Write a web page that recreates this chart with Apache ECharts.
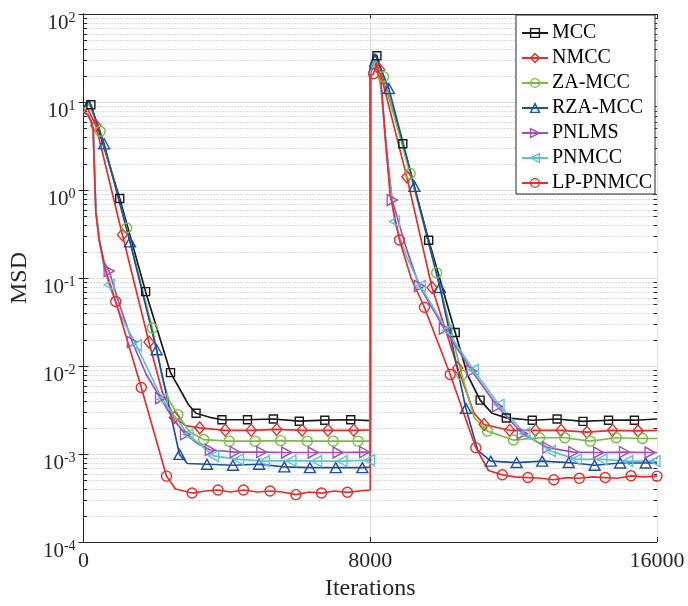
<!DOCTYPE html>
<html><head><meta charset="utf-8">
<script src="https://cdn.jsdelivr.net/npm/echarts@6/dist/echarts.min.js"></script>
<style>html,body{margin:0;padding:0;background:#fff}#c{width:688px;height:606px}</style>
</head><body><div id="c"></div>
<script>
// ---------------- data ----------------
const seriesNames = ['MCC', 'NMCC', 'ZA-MCC', 'RZA-MCC', 'PNLMS', 'PNMCC', 'LP-PNMCC'];
const xTicks = [0, 8000, 16000];
const yDecades = [-4, -3, -2, -1, 0, 1, 2];
const minorMultipliers = [2, 3, 4, 5, 6, 7, 8, 9];

// each point: [iteration, MSD, marker(1/0)]
const MCC = [
  [0, 8.6, 0], [130, 10.3, 0], [204, 9.3, 1], [1009, 0.80, 1], [1731, 0.070, 1], [2426, 0.0084, 1],
  [2750, 0.0049, 0], [2935, 0.0036, 0], [3139, 0.0029, 1], [3491, 0.00263, 0], [3861, 0.00245, 1],
  [4574, 0.00245, 1], [5296, 0.0025, 1], [6019, 0.00236, 1], [6731, 0.00242, 1], [7454, 0.00245, 1],
  [8000, 0.0024, 0],
  [8001, 26, 0], [8120, 35, 0], [8185, 33.6, 1], [8907, 3.35, 1], [9630, 0.268, 1], [10370, 0.024, 1],
  [10720, 0.0078, 0], [11065, 0.0041, 1], [11400, 0.0029, 0], [11796, 0.00257, 1], [12519, 0.00242, 1],
  [13213, 0.0025, 1], [13935, 0.00235, 1], [14648, 0.00242, 1], [15370, 0.00242, 1], [16000, 0.0025, 0]
];
const NMCC = [
  [0, 8.0, 0], [120, 8.3, 0], [343, 5.4, 1], [1083, 0.31, 1], [1824, 0.0187, 1], [2200, 0.005, 0],
  [2537, 0.0026, 1], [2850, 0.0021, 0], [3241, 0.00198, 1], [3954, 0.00186, 1], [4676, 0.00186, 1],
  [5389, 0.0019, 1], [6100, 0.00186, 1], [6820, 0.00186, 1], [7540, 0.00186, 1], [8000, 0.00188, 0],
  [8001, 21, 0], [8120, 28, 0], [8259, 23.4, 1], [9019, 1.41, 1], [9722, 0.078, 1], [10440, 0.0095, 1],
  [10898, 0.0029, 0], [11176, 0.00216, 1], [11889, 0.00186, 1], [12611, 0.00186, 1], [13324, 0.00186, 1],
  [14046, 0.00177, 1], [14760, 0.00186, 1], [15470, 0.00183, 1], [16000, 0.00186, 0]
];
const ZAMCC = [
  [0, 8.5, 0], [150, 9.5, 0], [463, 4.65, 1], [1204, 0.37, 1], [1917, 0.027, 1], [2194, 0.0075, 0],
  [2380, 0.0041, 0], [2630, 0.0028, 1], [2950, 0.0018, 0], [3352, 0.00146, 1], [4065, 0.0014, 1],
  [4787, 0.0014, 1], [5500, 0.00142, 1], [6241, 0.0014, 1], [6963, 0.0014, 1], [7657, 0.0014, 1],
  [8000, 0.0014, 0],
  [8001, 24, 0], [8130, 30, 0], [8370, 19.4, 1], [9111, 1.54, 1], [9852, 0.115, 1], [10556, 0.0079, 1],
  [10900, 0.0026, 0], [11269, 0.00182, 1], [11991, 0.00144, 1], [12722, 0.00153, 1], [13426, 0.00153, 1],
  [14139, 0.0014, 1], [14861, 0.00153, 1], [15593, 0.0015, 1], [16000, 0.0015, 0]
];
const RZAMCC = [
  [0, 8.6, 0], [150, 10.5, 0], [574, 3.35, 1], [1296, 0.257, 1], [2037, 0.0153, 1], [2676, 0.00099, 1],
  [2900, 0.00078, 0], [3444, 0.000765, 1], [4167, 0.000745, 1], [4898, 0.000765, 1], [5602, 0.000714, 1],
  [6315, 0.0007, 1], [7037, 0.0007, 1], [7778, 0.0007, 1], [8000, 0.00071, 0],
  [8001, 26, 0], [8130, 35, 0], [8519, 14.2, 1], [9231, 1.1, 1], [9944, 0.078, 1], [10667, 0.0033, 1],
  [11000, 0.0011, 0], [11361, 0.00083, 1], [12083, 0.0008, 1], [12796, 0.00083, 1], [13537, 0.0008, 1],
  [14259, 0.000745, 1], [14972, 0.00079, 1], [15685, 0.00079, 1], [16000, 0.0008, 0]
];
const PNLMS = [
  [0, 7.8, 0], [120, 7.2, 0], [204, 6.1, 0], [268, 4.9, 0], [296, 2.1, 0], [343, 0.6, 0], [435, 0.28, 0],
  [574, 0.15, 0], [713, 0.12, 1], [1000, 0.05, 0], [1361, 0.0187, 1], [1750, 0.008, 0], [2148, 0.0043, 1],
  [2500, 0.0025, 0], [2843, 0.00167, 1], [3200, 0.0013, 0], [3537, 0.00111, 1], [4231, 0.00105, 1],
  [4972, 0.00105, 1], [5667, 0.00104, 1], [6407, 0.00104, 1], [7102, 0.00104, 1], [7843, 0.00105, 1],
  [8000, 0.00104, 0],
  [8001, 22, 0], [8150, 29, 0], [8300, 15, 0], [8450, 3, 0], [8611, 0.77, 1], [9000, 0.22, 0],
  [9370, 0.081, 1], [10065, 0.0265, 1], [10833, 0.0088, 1], [11546, 0.00348, 1], [12241, 0.00171, 1],
  [12954, 0.00118, 1], [13676, 0.00105, 1], [14370, 0.00104, 1], [15093, 0.00105, 1], [15806, 0.00104, 1],
  [16000, 0.00104, 0]
];
const PNMCC = [
  [0, 7.8, 0], [120, 7.2, 0], [204, 6.1, 0], [268, 4.9, 0], [296, 2.1, 0], [343, 0.58, 0], [435, 0.27, 0],
  [574, 0.13, 0], [713, 0.0836, 1], [1000, 0.04, 0], [1472, 0.0172, 1], [2194, 0.0042, 1], [2917, 0.00167, 1],
  [3630, 0.00095, 1], [4324, 0.00087, 1], [5046, 0.00083, 1], [5787, 0.00084, 1], [6500, 0.00083, 1],
  [7213, 0.00083, 1], [7981, 0.00085, 1], [8000, 0.00085, 0],
  [8001, 22, 0], [8150, 29, 0], [8300, 14, 0], [8450, 2.5, 0], [8676, 0.44, 1], [9000, 0.18, 0],
  [9398, 0.081, 1], [10139, 0.0254, 1], [10880, 0.009, 1], [11593, 0.00362, 1], [12315, 0.00171, 1],
  [13028, 0.00108, 1], [13750, 0.00087, 1], [14463, 0.00087, 1], [15185, 0.00083, 1], [15944, 0.00083, 1],
  [16000, 0.00082, 0]
];
const LPPNMCC = [
  [0, 7.6, 0], [120, 7.2, 0], [204, 6.1, 0], [268, 4.9, 0], [296, 2.1, 0], [343, 0.55, 0], [435, 0.27, 0],
  [574, 0.143, 0], [713, 0.092, 0], [898, 0.054, 1], [1611, 0.0057, 1], [2315, 0.00056, 1], [2565, 0.0004, 0],
  [3028, 0.00036, 1], [3400, 0.00038, 0], [3750, 0.00039, 1], [4100, 0.00037, 0], [4463, 0.00039, 1],
  [4850, 0.00037, 0], [5204, 0.00038, 1], [5550, 0.00037, 0], [5926, 0.000345, 1], [6300, 0.00037, 0],
  [6639, 0.00036, 1], [7000, 0.00038, 0], [7361, 0.000367, 1], [7700, 0.00038, 0], [8000, 0.00039, 0],
  [8001, 20, 0], [8093, 21, 1], [8170, 28, 0], [8300, 17, 0], [8420, 4, 0], [8550, 0.9, 0], [8815, 0.27, 1],
  [9139, 0.1, 0], [9509, 0.0465, 1], [10231, 0.008, 1], [10944, 0.00118, 1], [11300, 0.00065, 0],
  [11685, 0.00058, 1], [12040, 0.00055, 0], [12398, 0.00054, 1], [12760, 0.00053, 0], [13120, 0.00051, 1],
  [13480, 0.00054, 0], [13833, 0.00053, 1], [14200, 0.00055, 0], [14556, 0.00054, 1], [14900, 0.00053, 0],
  [15278, 0.000565, 1], [15640, 0.00055, 0], [16000, 0.00056, 1]
];
const allData = [MCC, NMCC, ZAMCC, RZAMCC, PNLMS, PNMCC, LPPNMCC];

// ---------------- styles ----------------
const colors = ['#1a1a1a', '#ee2a2a', '#77bd43', '#1f4fa0', '#a04fb2', '#5cc3d6', '#ee2a2a'];
const symbols = ['rect', 'diamond', 'circle', 'triangle', 'triangle', 'triangle', 'circle'];
const symRot = [0, 0, 0, 0, -90, 90, 0];
const symSizes = [[8, 8], [10, 12], [10, 10], [11, 10], [11, 10], [11, 10], [10, 10]];
const FONT = '"Liberation Serif", "Times New Roman", serif';
const TXT = '#262626';

const minorValues = [];
yDecades.slice(0, -1).forEach(e => minorMultipliers.forEach(m => minorValues.push(m * Math.pow(10, e))));

const chart = echarts.init(document.getElementById('c'), null, { renderer: 'canvas' });

const lineSeries = allData.map((d, i) => ({
  name: seriesNames[i],
  type: 'line',
  data: d,
  encode: { x: 0, y: 1 },
  symbol: symbols[i],
  symbolRotate: symRot[i],
  symbolSize: (val) => (val[2] ? symSizes[i] : 0),
  showSymbol: true,
  showAllSymbol: true,
  lineStyle: { color: colors[i], width: 1.7 },
  itemStyle: { color: 'rgba(0,0,0,0)', borderColor: colors[i], borderWidth: 1.4 },
  emphasis: { disabled: true },
  z: 3
}));

// minor grid lines (dotted) + minor ticks on left/right axes
const decorSeries = {
  type: 'custom',
  silent: true,
  z: 1,
  data: minorValues.map(v => [xTicks[0], v]),
  encode: { x: 0, y: 1 },
  clip: false,
  renderItem: (params, api) => {
    const v = api.value(1);
    const p = api.coord([xTicks[0], v]);
    const q = api.coord([xTicks[xTicks.length - 1], v]);
    const y = Math.round(p[1]) + 0.5;
    const st = { stroke: '#bcbcbc', lineWidth: 1, lineDash: [1, 2] };
    const tk = { stroke: TXT, lineWidth: 1 };
    return {
      type: 'group',
      children: [
        { type: 'line', shape: { x1: p[0] + 1, y1: y, x2: q[0] - 1, y2: y }, style: st },
        { type: 'line', shape: { x1: p[0], y1: y, x2: p[0] + 3.5, y2: y }, style: tk },
        { type: 'line', shape: { x1: q[0] - 3.5, y1: y, x2: q[0], y2: y }, style: tk }
      ]
    };
  }
};

const axisLineStyle = { lineStyle: { color: TXT, width: 1 } };
const tickStyle = { inside: true, length: 5, lineStyle: { color: TXT, width: 1 } };

const option = {
  animation: false,
  backgroundColor: '#ffffff',
  grid: { left: 81, right: 31, top: 14, bottom: 59, containLabel: false },
  legend: {
    data: seriesNames,
    orient: 'vertical',
    left: 516,
    top: 15,
    itemWidth: 26,
    itemHeight: 11,
    itemGap: 5,
    padding: [8, 3, 1, 5],
    backgroundColor: '#ffffff',
    borderColor: TXT,
    borderWidth: 1,
    borderRadius: 0,
    itemStyle: { borderWidth: 1.4 },
    textStyle: { fontFamily: FONT, fontSize: 20, color: '#000', lineHeight: 20, padding: [0, 0, 0, -1] },
    selectedMode: false
  },
  xAxis: [{
    type: 'value', position: 'bottom', min: 0, max: 16000, interval: 8000,
    axisLine: axisLineStyle, axisTick: tickStyle,
    axisLabel: { fontFamily: FONT, fontSize: 22, color: TXT, margin: 8, formatter: (v) => String(v) },
    splitLine: { show: true, lineStyle: { color: '#e2e2e2', width: 1 } },
    name: 'Iterations', nameLocation: 'middle', nameGap: 35,
    nameTextStyle: { fontFamily: FONT, fontSize: 24, color: TXT }
  }, {
    type: 'value', position: 'top', min: 0, max: 16000, interval: 8000,
    axisLine: axisLineStyle, axisTick: tickStyle, axisLabel: { show: false }, splitLine: { show: false }
  }],
  yAxis: [{
    type: 'log', logBase: 10, min: 1e-4, max: 100, splitNumber: 6, position: 'left',
    axisLine: { show: true, ...axisLineStyle }, axisTick: tickStyle,
    axisLabel: {
      margin: 8,
      padding: [18, 0, 0, 0],
      formatter: (v) => '{b|10}{s|' + Math.round(Math.log10(v)) + '}',
      rich: {
        b: { fontFamily: FONT, fontSize: 21, color: TXT, lineHeight: 24 },
        s: { fontFamily: FONT, fontSize: 14, color: TXT, lineHeight: 12, verticalAlign: 'top' }
      }
    },
    splitLine: { show: true, lineStyle: { color: '#e2e2e2', width: 1 } },
    minorTick: { show: false }, minorSplitLine: { show: false },
    name: 'MSD', nameLocation: 'middle', nameGap: 46, nameRotate: 90,
    nameTextStyle: { fontFamily: FONT, fontSize: 24, color: TXT }
  }, {
    type: 'log', logBase: 10, min: 1e-4, max: 100, splitNumber: 6, position: 'right',
    axisLine: { show: true, ...axisLineStyle }, axisTick: tickStyle, axisLabel: { show: false }, splitLine: { show: false }
  }],
  series: [decorSeries, ...lineSeries]
};
chart.setOption(option);
</script>
</body></html>
